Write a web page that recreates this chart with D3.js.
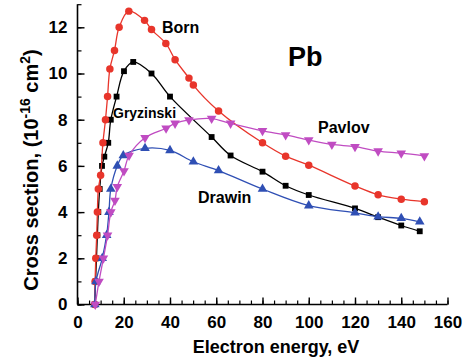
<!DOCTYPE html>
<html>
<head>
<meta charset="utf-8">
<script src="https://cdn.jsdelivr.net/npm/d3@7"></script>
<style>
  html, body { margin: 0; padding: 0; background: #fff; }
  svg text { font-family: "Liberation Sans", Arial, sans-serif; font-weight: bold; fill: #000; }
</style>
</head>
<body>
<svg id="chart" width="467" height="363"></svg>
<script>
// Electron-impact ionization cross sections of Pb (energy in eV, sigma in 1e-16 cm^2)
const bornE   = [7.42, 7.6, 7.9, 8.3, 8.6, 9.0, 10.0, 11.0, 12.1, 13.0, 14.0, 16.0, 18.0, 22.2, 29.0, 32.0, 38.2, 42.2, 48.2, 50.1, 61.0, 80, 90, 100, 120, 130, 140, 150];
const bornS   = [0, 1.0, 2.0, 3.0, 4.0, 5.0, 5.6, 7.0, 8.0, 9.0, 10.2, 11.0, 12.0, 12.7, 12.3, 11.9, 11.3, 10.6, 9.8, 9.5, 8.38, 7.0, 6.42, 6.03, 5.13, 4.75, 4.56, 4.45];

const gryzE   = [7.42, 7.8, 8.2, 8.6, 9.0, 9.6, 10.6, 11.6, 13.3, 14.4, 16.9, 20.1, 24.1, 32.0, 40.0, 58.0, 66.2, 80, 90, 100, 120, 130, 140, 148];
const gryzS   = [0, 1.0, 2.0, 3.0, 4.0, 5.0, 6.0, 6.4, 7.0, 8.0, 9.0, 10.1, 10.5, 10.0, 9.0, 7.25, 6.45, 5.75, 5.14, 4.74, 4.16, 3.78, 3.42, 3.17];

const drawE   = [7.5, 8.0, 10.7, 12.6, 13.6, 14.4, 17.2, 19.8, 29.2, 40.0, 50.1, 61.0, 80, 100, 120, 130, 140, 148];
const drawS   = [0, 1.0, 2.0, 3.0, 4.0, 5.0, 6.0, 6.45, 6.76, 6.67, 6.18, 5.8, 5.0, 4.28, 3.97, 3.8, 3.73, 3.58];

const pavE    = [7.7, 9.3, 11.2, 13.0, 14.4, 16.2, 17.2, 20.1, 22.3, 29.2, 38.3, 42.2, 48.2, 58.0, 66.2, 80, 90, 100, 110, 120, 130, 140, 150];
const pavS    = [0, 1.0, 2.0, 3.0, 4.0, 4.5, 5.1, 5.78, 6.45, 7.22, 7.63, 7.84, 7.99, 8.05, 7.84, 7.52, 7.34, 7.12, 6.93, 6.83, 6.64, 6.55, 6.43];

const xTicks  = [0, 20, 40, 60, 80, 100, 120, 140, 160];
const yTicks  = [0, 2, 4, 6, 8, 10, 12];

const svg = d3.select("#chart");
const x = d3.scaleLinear().domain([0, 160]).range([77.5, 447.5]);
const y = d3.scaleLinear().domain([0, 13]).range([304.5, 4.2]);

// axes: ticks point inward, minor ticks every 5 eV and every 1 unit
const gx = svg.append("g").attr("transform", `translate(0,${y(0)})`);
gx.call(d3.axisBottom(x).tickValues(d3.range(0, 161, 5)).tickSize(-4).tickFormat(""));
gx.call(g => g.selectAll(".tick line").attr("stroke", "#000").attr("stroke-width", 1.2));
const gxMaj = svg.append("g").attr("transform", `translate(0,${y(0)})`)
  .call(d3.axisBottom(x).tickValues(xTicks).tickSize(-7).tickPadding(11).tickFormat(d3.format("d")));
gxMaj.selectAll(".tick line").attr("stroke", "#000").attr("stroke-width", 1.4);
gxMaj.selectAll("text").attr("font-size", 17).attr("dy", "0.71em").attr("fill", "#000")
  .attr("font-family", "Liberation Sans, Arial, sans-serif").attr("font-weight", "bold");
svg.selectAll(".domain").remove();

const gy = svg.append("g").attr("transform", `translate(${x(0)},0)`);
gy.call(d3.axisLeft(y).tickValues(d3.range(0, 14, 1)).tickSize(-4).tickFormat(""));
gy.selectAll(".tick line").attr("stroke", "#000").attr("stroke-width", 1.2);
const gyMaj = svg.append("g").attr("transform", `translate(${x(0)},0)`)
  .call(d3.axisLeft(y).tickValues(yTicks).tickSize(-7).tickPadding(10).tickFormat(d3.format("d")));
gyMaj.selectAll(".tick line").attr("stroke", "#000").attr("stroke-width", 1.4);
gyMaj.selectAll("text").attr("font-size", 17).attr("fill", "#000")
  .attr("font-family", "Liberation Sans, Arial, sans-serif").attr("font-weight", "bold");
svg.selectAll(".domain").remove();

svg.append("line").attr("x1", x(0)).attr("x2", x(0)).attr("y1", y(13)).attr("y2", y(0))
  .attr("stroke", "#000").attr("stroke-width", 1.6);
svg.append("line").attr("x1", x(0)).attr("x2", x(160)).attr("y1", y(0)).attr("y2", y(0))
  .attr("stroke", "#000").attr("stroke-width", 1.6);

// curves with markers
const series = [
  { e: gryzE, s: gryzS, color: "#000000", sym: d3.symbolSquare, size: 34, rot: 0 },
  { e: bornE, s: bornS, color: "#e8352b", sym: d3.symbolCircle, size: 44, rot: 0 },
  { e: drawE, s: drawS, color: "#2f4fb4", sym: d3.symbolTriangle, size: 40, rot: 0 },
  { e: pavE,  s: pavS,  color: "#c04cc2", sym: d3.symbolTriangle, size: 40, rot: 180 }
];
const line = d3.line().x(d => x(d[0])).y(d => y(d[1])).curve(d3.curveCatmullRom.alpha(0.5));

series.forEach(sr => {
  const pts = sr.e.map((v, i) => [v, sr.s[i]]);
  svg.append("path").datum(pts).attr("d", line)
    .attr("fill", "none").attr("stroke", sr.color).attr("stroke-width", 1.3);
  svg.append("g").selectAll("path").data(pts).join("path")
    .attr("d", d3.symbol().type(sr.sym).size(sr.size))
    .attr("transform", d => `translate(${x(d[0])},${y(d[1])}) rotate(${sr.rot})`)
    .attr("fill", sr.color);
});

// labels
svg.append("text").attr("x", 288).attr("y", 66).attr("font-size", 27).text("Pb");
svg.append("text").attr("x", 162).attr("y", 33).attr("font-size", 16).text("Born");
svg.append("text").attr("x", 113).attr("y", 118).attr("font-size", 14).text("Gryzinski");
svg.append("text").attr("x", 318).attr("y", 133).attr("font-size", 16).text("Pavlov");
svg.append("text").attr("x", 198).attr("y", 203).attr("font-size", 16).text("Drawin");

svg.append("text").attr("x", 276).attr("y", 353).attr("font-size", 18)
  .attr("text-anchor", "middle").text("Electron energy, eV");

const yl = svg.append("text").attr("transform", "translate(38,170) rotate(-90)")
  .attr("font-size", 20).attr("text-anchor", "middle");
yl.append("tspan").text("Cross section, (10");
yl.append("tspan").attr("font-size", 14).attr("dy", -8).text("-16");
yl.append("tspan").attr("dy", 8).text(" cm");
yl.append("tspan").attr("font-size", 14).attr("dy", -8).text("2");
yl.append("tspan").attr("dy", 8).text(")");
</script>
</body>
</html>
